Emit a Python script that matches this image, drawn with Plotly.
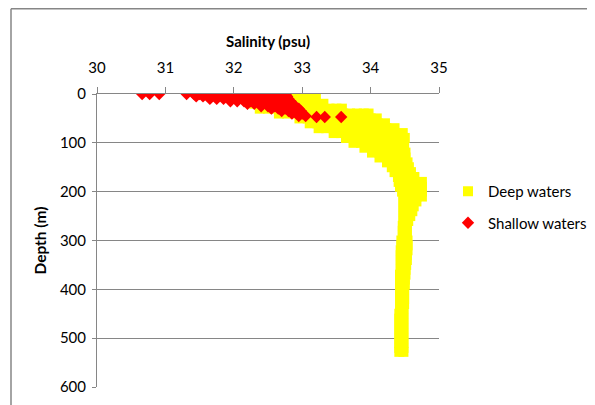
import plotly.graph_objects as go

# ---- data ----
deep_depths = [0, 10, 20, 30, 40, 50, 60, 70, 80, 90, 100, 110, 120, 130, 140, 150, 160, 170,
               180, 190, 200, 210, 220, 230, 240, 250, 260, 270, 280, 290, 300, 310, 320, 330,
               340, 350, 360, 370, 380, 390, 400, 410, 420, 430, 440, 450, 460, 470, 480, 490,
               500, 510, 520, 528]
deep_salinity = [
    [32.2, 32.3, 32.4, 32.5, 32.6, 32.7, 32.8, 32.9, 33.0, 33.1, 33.19],
    [32.25, 32.35, 32.45, 32.55, 32.65, 32.75, 32.85, 32.95, 33.05, 33.15, 33.2],
    [32.3, 32.4, 32.5, 32.6, 32.7, 32.8, 32.9, 33.0, 33.1, 33.2, 33.31],
    [32.38, 32.5, 32.6, 32.7, 32.8, 32.9, 33.0, 33.1, 33.2, 33.3, 33.4, 33.5, 33.58],
    [32.66, 32.78, 32.9, 33.0, 33.1, 33.2, 33.3, 33.4, 33.5, 33.6, 33.7, 33.8, 33.9, 33.97],
    [32.96, 33.08, 33.2, 33.3, 33.4, 33.5, 33.6, 33.7, 33.8, 33.9, 34.0, 34.09],
    [33.11, 33.22, 33.33, 33.44, 33.55, 33.66, 33.77, 33.88, 33.99, 34.1, 34.21],
    [33.24, 33.35, 33.46, 33.57, 33.68, 33.79, 33.9, 34.01, 34.12, 34.23, 34.35],
    [33.46, 33.57, 33.68, 33.79, 33.9, 34.01, 34.12, 34.23, 34.35, 34.47],
    [33.64, 33.75, 33.86, 33.97, 34.08, 34.19, 34.3, 34.4, 34.5],
    [33.75, 33.86, 33.97, 34.08, 34.19, 34.3, 34.4, 34.48],
    [33.91, 34.02, 34.13, 34.24, 34.35, 34.45, 34.49],
    [34.02, 34.13, 34.24, 34.35, 34.45, 34.51],
    [34.13, 34.24, 34.35, 34.45, 34.51],
    [34.24, 34.35, 34.45, 34.54],
    [34.31, 34.41, 34.5, 34.56],
    [34.35, 34.46, 34.53, 34.59],
    [34.4, 34.5, 34.58, 34.64],
    [34.41, 34.52, 34.63, 34.75],
    [34.43, 34.54, 34.65, 34.75],
    [34.46, 34.56, 34.66, 34.75],
    [34.48, 34.58, 34.67, 34.75],
    [34.48, 34.58, 34.67],
    [34.48, 34.56, 34.63],
    [34.48, 34.55, 34.61],
    [34.48, 34.53, 34.58],
    [34.48, 34.55],
    [34.47, 34.53],
    [34.47, 34.53],
    [34.47, 34.53],
    [34.45, 34.54],
    [34.45, 34.54],
    [34.44, 34.54],
    [34.44, 34.53],
    [34.44, 34.53],
    [34.44, 34.52],
    [34.44, 34.51],
    [34.43, 34.51],
    [34.43, 34.5],
    [34.43, 34.5],
    [34.43, 34.49],
    [34.43, 34.49],
    [34.43, 34.49],
    [34.43, 34.49],
    [34.43, 34.48],
    [34.42, 34.48],
    [34.42, 34.48],
    [34.42, 34.48],
    [34.42, 34.48],
    [34.42, 34.48],
    [34.42, 34.48],
    [34.42, 34.48],
    [34.42, 34.48],
    [34.42, 34.48],
]

shallow_depths = [0, 5, 10, 15, 20, 25, 30, 35, 40, 45, 47]
shallow_salinity = [
    [30.66, 30.77, 30.91, 31.31, 31.42, 31.5, 31.6, 31.7, 31.8, 31.9, 32.0, 32.1, 32.2,
     32.3, 32.4, 32.5, 32.6, 32.7, 32.76],
    [31.45, 31.55, 31.65, 31.75, 31.85, 31.95, 32.05, 32.15, 32.25, 32.35, 32.45, 32.55,
     32.65, 32.78],
    [31.65, 31.75, 31.85, 31.95, 32.05, 32.15, 32.25, 32.35, 32.45, 32.55, 32.65, 32.8],
    [31.95, 32.05, 32.15, 32.25, 32.35, 32.45, 32.55, 32.65, 32.75, 32.83],
    [32.2, 32.3, 32.4, 32.5, 32.6, 32.7, 32.85],
    [32.4, 32.5, 32.6, 32.7, 32.8, 32.9],
    [32.55, 32.65, 32.75, 32.85, 32.95],
    [32.7, 32.8, 32.9, 32.98],
    [32.85, 32.92, 33.0],
    [32.95, 33.05],
    [33.21, 33.33, 33.57],
]

x_ticks = [30, 31, 32, 33, 34, 35]
y_ticks = [0, 100, 200, 300, 400, 500, 600]

series_names = ["Deep waters", "Shallow waters"]

# ---- flatten ----
deep_x = [s for row in deep_salinity for s in row]
deep_y = [d for d, row in zip(deep_depths, deep_salinity) for _ in row]
sh_x = [s for row in shallow_salinity for s in row]
sh_y = [d for d, row in zip(shallow_depths, shallow_salinity) for _ in row]

FONT = "Lato"
GRAY = "#868686"

fig = go.Figure()
fig.add_trace(go.Scatter(
    x=deep_x, y=deep_y, mode="markers", name=series_names[0], legendgroup="a",
    marker=dict(symbol="square", size=10, color="#FFFF00", line=dict(width=0)),
))
fig.add_trace(go.Scatter(
    x=sh_x, y=sh_y, mode="markers", name=series_names[1], legendgroup="b",
    marker=dict(symbol="diamond", size=9.5, color="#FF0000", line=dict(width=0)),
))

# the page places the figure 8px in from the top-left corner, so work in (ref - 8) pixels
OFF = 8
FW, FH = 595 - OFF, 405 - OFF
L, T, W, H = 97 - OFF, 94 - OFF, 342, 293
fig.update_layout(
    width=FW, height=FH, autosize=False,
    margin=dict(l=L, r=FW - L - W, t=T, b=FH - T - H, pad=0, autoexpand=False),
    paper_bgcolor="white", plot_bgcolor="white",
    font=dict(family=FONT, color="#000000", size=15),
    showlegend=True,
    legend=dict(
        x=(468 - OFF - 20 - L) / W, y=1 - (207 - OFF - T) / H,
        yanchor="middle", xanchor="left",
        font=dict(family=FONT, size=15, color="#000000"),
        bgcolor="rgba(0,0,0,0)", borderwidth=0, tracegroupgap=9,
    ),
    xaxis=dict(
        side="top", range=[30, 35], tickvals=x_ticks, ticktext=[str(v) for v in x_ticks],
        showgrid=False, zeroline=False, automargin=False,
        showline=True, linecolor=GRAY, linewidth=1,
        ticks="outside", ticklen=6, tickcolor=GRAY, tickwidth=1,
        ticklabelstandoff=8,
        tickfont=dict(family=FONT, size=15),
        title=dict(text="<b>Salinity (psu)</b>", font=dict(family=FONT, size=15), standoff=6),
    ),
    yaxis=dict(
        range=[600, 0], tickvals=y_ticks, ticktext=[str(v) for v in y_ticks],
        showgrid=True, gridcolor=GRAY, gridwidth=1, zeroline=False, automargin=False,
        showline=True, linecolor=GRAY, linewidth=1,
        ticks="outside", ticklen=4, tickcolor=GRAY, tickwidth=1,
        ticklabelstandoff=3,
        tickfont=dict(family=FONT, size=15),
        title=dict(text="<b>Depth (m)</b>", font=dict(family=FONT, size=15.5), standoff=9),
    ),
)

# outer chart frame (left and top edges visible)
fx0 = (11 - OFF - L) / W
fy1 = 1 + (T - 0.8) / H
fig.add_shape(type="line", xref="paper", yref="paper", x0=fx0, x1=fx0, y0=-0.2, y1=fy1,
              line=dict(color=GRAY, width=1.5))
fig.add_shape(type="line", xref="paper", yref="paper", x0=fx0, x1=(FW + 5 - L) / W, y0=fy1, y1=fy1,
              line=dict(color=GRAY, width=1.5))

fig.write_html("out.html")
